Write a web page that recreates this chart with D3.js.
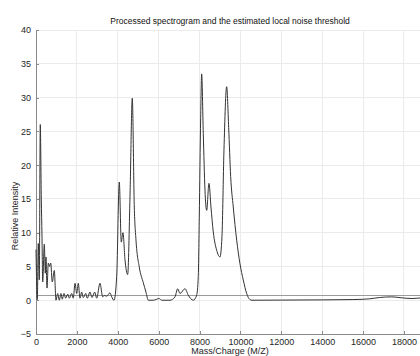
<!DOCTYPE html>
<html><head><meta charset="utf-8">
<script src="https://cdn.jsdelivr.net/npm/d3@7"></script>
<style>body{margin:0;background:#fff;}svg{display:block;font-family:"Liberation Sans",Arial,sans-serif;}</style>
</head><body>
<svg id="c" width="420" height="356"></svg>
<script>
const titleText = "Processed spectrogram and the estimated local noise threshold";
const xLabel = "Mass/Charge (M/Z)";
const yLabel = "Relative Intensity";
const xTicks = [0,2000,4000,6000,8000,10000,12000,14000,16000,18000];
const yTicks = [-5,0,5,10,15,20,25,30,35,40];
const noiseThreshold = 0.7;
const mz = [0,64,112,161,210,259,293,328,406,455,489,538,602,660,719,797,895,978,1061,1140,1223,1286,1370,1453,1550,1629,1746,1824,1908,1991,2069,2152,2235,2313,2431,2509,2641,2739,2871,2969,3130,3262,3341,3458,3619,3703,3815,3947,4074,4172,4255,4353,4485,4598,4710,4808,4891,5052,5248,5380,5493,5737,6030,6148,6554,6799,6931,7043,7288,7449,7694,7860,7938,7987,8055,8104,8183,8266,8349,8461,8559,8672,8838,8999,9097,9195,9327,9425,9523,9650,9817,9978,10139,10305,10467,10565,12000,14000,15500,16300,16800,17400,17900,18400,18900,19000];
const intensity = [7.5,0.1,8.4,3.0,26,15,9.5,2.7,8.3,4.0,6.4,1.8,5.5,5.0,5.5,2.7,4.4,0.0,1.0,0.0,1.0,0.15,1.0,0.3,0.9,0.3,1.0,0.3,2.5,1.0,2.5,0.3,1.2,0.4,1.0,0.3,1.2,0.4,1.2,0.3,2.5,0.5,0.7,0.6,1.1,0.5,0.0,3.5,17.5,8.6,10.0,6.0,3.8,15.3,29.9,13.8,8.9,4.9,2.6,1.2,0.0,0.0,0.25,0.0,0.0,0.5,1.7,1.0,1.7,0.75,0.0,0.75,3.5,12.3,27,33.5,24.7,16.3,13.3,17.3,13.8,10.1,7.4,6.4,9.4,22.2,31.6,25.6,18.3,13.8,8.9,5.4,3.0,1.0,0.1,0.0,0.02,0.05,0.1,0.2,0.4,0.5,0.35,0.25,0.35,0.35];

const svg = d3.select("#c");
const x = d3.scaleLinear().domain([0,19000]).range([36,424.4]);
const y = d3.scaleLinear().domain([-5,40]).range([334,30]);
const gridC = "#ebebeb", axisC = "#8a8a8a", textC = "#262626";

// grid
svg.append("g").selectAll("line.v").data(xTicks.slice(1)).join("line")
  .attr("x1",d=>x(d)).attr("x2",d=>x(d)).attr("y1",y(-5)).attr("y2",y(40))
  .attr("stroke",gridC).attr("stroke-width",1).attr("shape-rendering","crispEdges");
svg.append("g").selectAll("line.h").data(yTicks.slice(1)).join("line")
  .attr("x1",x(0)).attr("x2",420).attr("y1",d=>y(d)).attr("y2",d=>y(d))
  .attr("stroke",gridC).attr("stroke-width",1).attr("shape-rendering","crispEdges");

// axes
const yAxis = d3.axisLeft(y).tickValues(yTicks).tickSize(-3).tickPadding(5).tickFormat(d3.format("d"));
const gy = svg.append("g").attr("transform",`translate(${x(0)},0)`).call(yAxis);
const xAxis = d3.axisBottom(x).tickValues(xTicks).tickSize(-3).tickPadding(5).tickFormat(d3.format("d"));
const gx = svg.append("g").attr("transform",`translate(0,${y(-5)})`).call(xAxis);
[gx,gy].forEach(g=>{
  g.select(".domain").attr("stroke",axisC).attr("shape-rendering","crispEdges");
  g.selectAll(".tick line").attr("stroke",axisC).attr("shape-rendering","crispEdges");
  g.selectAll(".tick text").attr("fill",textC).attr("font-size","9px").attr("font-family","Liberation Sans, Arial, sans-serif");
});
gx.select(".domain").attr("d",`M${x(0)},0H420`);

// threshold line
svg.append("line").attr("x1",x(0)).attr("x2",420).attr("y1",y(noiseThreshold)).attr("y2",y(noiseThreshold))
  .attr("stroke","#9a9a9a").attr("stroke-width",1);

// spectrum
const pts = mz.map((m,i)=>[m,intensity[i]]);
svg.append("path").datum(pts)
  .attr("d",d3.line().curve(d3.curveMonotoneX).x(d=>x(d[0])).y(d=>y(d[1])))
  .attr("fill","none").attr("stroke","#333").attr("stroke-width",1).attr("stroke-linejoin","round");

// labels
svg.append("text").attr("x",230).attr("y",24).attr("text-anchor","middle")
  .attr("font-size","8.5px").attr("fill","#111").text(titleText);
svg.append("text").attr("x",230).attr("y",354).attr("text-anchor","middle")
  .attr("font-size","9px").attr("fill",textC).text(xLabel);
svg.append("text").attr("transform","translate(18,216) rotate(-90)").attr("text-anchor","middle")
  .attr("font-size","9px").attr("fill",textC).text(yLabel);
</script>
</body></html>
